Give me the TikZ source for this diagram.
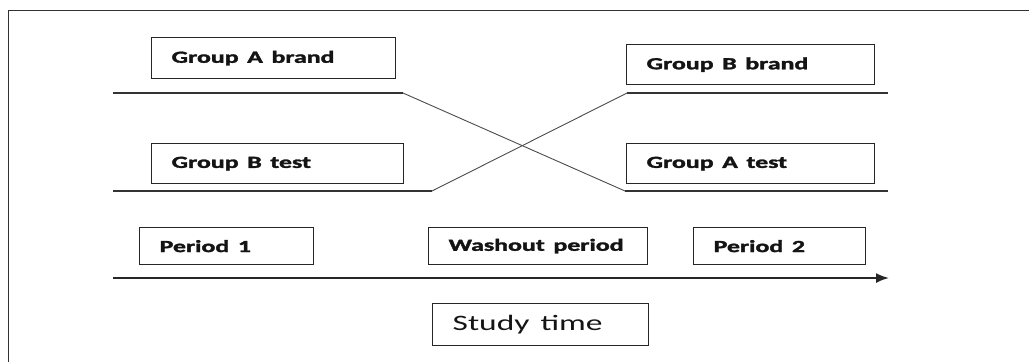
\documentclass[tikz,border=0pt]{standalone}
\usepackage{fontspec}
\setmainfont{Carlito}[BoldFeatures={FakeBold=1.6}]
\usepackage{graphicx}
\usetikzlibrary{arrows.meta}
\newcommand{\widetxt}[1]{\scalebox{1.52}[1]{#1}}
\begin{document}
\begin{tikzpicture}[x=1pt,y=-1pt,
  lbl/.style={draw=black!85, line width=1.3pt, anchor=north west, inner xsep=20pt, inner ysep=0pt, align=left, text=black!92, font=\bfseries\fontsize{17}{17}\selectfont},
  big/.style={lbl, font=\fontsize{22}{22}\selectfont},
  track/.style={draw=black!80, line width=1.3pt},
  cross/.style={draw=black!70, line width=0.9pt},
  timeline/.style={draw=black!85, line width=1.8pt, -{Latex[length=13pt,width=10pt]}}]
\useasboundingbox (0,0) rectangle (1029,362);
\fill[white] (0,0) rectangle (1029,362);
\coordinate (f1) at (1029,10.5);
\coordinate (f2) at (8.5,10.5);
\coordinate (f3) at (8.5,362);
\draw[black!80, line width=1.8pt] (f1) -- (f2) -- (f3);

\node[lbl, text width=204pt, minimum height=41pt] (ga) at (151,37) {\widetxt{Group A brand}};
\node[lbl, text width=212pt, minimum height=40pt] (gbt) at (151,143) {\widetxt{Group B test}};
\node[lbl, text width=208pt, minimum height=40pt] (gbb) at (626,44) {\widetxt{Group B brand}};
\node[lbl, text width=208pt, minimum height=40pt] (gat) at (626,143) {\widetxt{Group A test}};
\node[lbl, text width=134pt, minimum height=37pt] (p1) at (139,227) {\widetxt{Period 1}};
\node[lbl, text width=179pt, minimum height=37pt] (wo) at (428,227) {\widetxt{Washout period}};
\node[lbl, text width=132pt, minimum height=37pt] (p2) at (693,227) {\widetxt{Period 2}};
\node[big, text width=176pt, minimum height=42pt] (st) at (432,303) {\widetxt{Study time}};

\coordinate (a1) at (113,93);
\coordinate (a2) at (403,93);
\coordinate (a3) at (625,191);
\coordinate (a4) at (888,191);
\coordinate (b1) at (113,191);
\coordinate (b2) at (432,191);
\coordinate (b3) at (627,93);
\coordinate (b4) at (888,93);
\draw[track] (a1) -- (a2);
\draw[cross] (a2) -- (a3);
\draw[track] (a3) -- (a4);
\draw[track] (b1) -- (b2);
\draw[cross] (b2) -- (b3);
\draw[track] (b3) -- (b4);

\coordinate (t1) at (113,278);
\coordinate (t2) at (889,278);
\draw[timeline] (t1) -- (t2);
\end{tikzpicture}
\end{document}
